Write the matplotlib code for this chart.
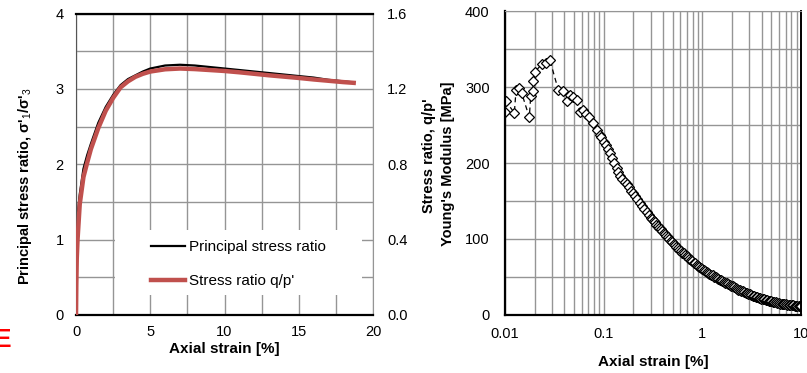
import matplotlib
matplotlib.use("Agg")
from matplotlib import pyplot as plt
from matplotlib.patches import Rectangle
from matplotlib.ticker import MultipleLocator, LogLocator, NullFormatter, FixedLocator

plt.rcParams['font.family'] = ['Liberation Sans', 'DejaVu Sans']
plt.rcParams['mathtext.fontset'] = 'custom'
plt.rcParams['mathtext.rm'] = 'Liberation Sans'
plt.rcParams['mathtext.it'] = 'Liberation Sans'
plt.rcParams['font.size'] = 10.5

# left chart: principal stress ratio vs axial strain
strain_r = [0, 0.05, 0.1, 0.25, 0.5, 0.75, 1.0, 1.5, 2.0, 2.5, 3.0, 3.5, 4.0, 4.5,
            5.0, 6.0, 7.0, 8.0, 9.0, 10, 11, 12, 13, 14, 15, 16, 17, 18, 18.5]
ratio_r = [1.0, 1.15, 1.3, 1.6, 1.94, 2.12, 2.27, 2.55, 2.76, 2.92, 3.05, 3.13, 3.18, 3.23,
           3.27, 3.31, 3.32, 3.31, 3.29, 3.27, 3.25, 3.23, 3.21, 3.19, 3.17, 3.15, 3.12, 3.10, 3.09]

# stress ratio q/p' (right axis)
strain_q = [0, 0.02, 0.05, 0.1, 0.25, 0.5, 0.75, 1.0, 1.5, 2.0, 2.5, 3.0, 3.5, 4.0, 4.5,
            5.0, 6.0, 7.0, 8.0, 9.0, 10, 11, 12, 13, 14, 15, 16, 17, 18, 18.7]
qp = [0, 0.16, 0.30, 0.396, 0.588, 0.732, 0.808, 0.88, 0.992, 1.084, 1.152, 1.208, 1.24, 1.264,
      1.28, 1.292, 1.304, 1.308, 1.305, 1.30, 1.295, 1.288, 1.28, 1.272, 1.265, 1.258, 1.25,
      1.243, 1.236, 1.232]

# right chart: Young's modulus vs axial strain
strain_e = [0.0100, 0.01023, 0.01243, 0.01293, 0.01396, 0.01476, 0.01763, 0.0182, 0.01907, 0.01936,
            0.02014, 0.02355, 0.026, 0.02858, 0.03468, 0.03844, 0.04217, 0.0456, 0.04921, 0.05329,
            0.05754, 0.0622, 0.0662, 0.0716, 0.0774, 0.0849, 0.0918, 0.095,
            0.100, 0.105, 0.110, 0.116, 0.122, 0.128, 0.135, 0.141, 0.148, 0.155, 0.163, 0.171,
            0.180, 0.190, 0.200, 0.210, 0.220, 0.232, 0.245, 0.258, 0.272, 0.287,
            0.300, 0.310, 0.320, 0.331, 0.342, 0.354, 0.366, 0.378, 0.391, 0.404, 0.418, 0.432,
            0.447, 0.462, 0.478, 0.494, 0.511, 0.528, 0.546, 0.565, 0.584, 0.604, 0.625, 0.646,
            0.668, 0.691, 0.714, 0.739, 0.764, 0.790, 0.817, 0.845, 0.874, 0.904, 0.935, 0.967,
            1.00, 1.03, 1.07, 1.11, 1.14, 1.18, 1.22, 1.27, 1.31, 1.36, 1.40, 1.45, 1.50, 1.55,
            1.60, 1.66, 1.71, 1.77, 1.83, 1.90, 1.96, 2.03, 2.10, 2.17, 2.24, 2.32, 2.40, 2.48,
            2.57, 2.65, 2.74, 2.84, 2.93, 3.03, 3.14, 3.24, 3.36, 3.47, 3.59, 3.71, 3.84, 3.97,
            4.10, 4.24, 4.39, 4.54, 4.69, 4.85, 5.02, 5.19, 5.37, 5.55, 5.74, 5.94, 6.14, 6.35,
            6.57, 6.79, 7.02, 7.26, 7.51, 7.77, 8.03, 8.31, 8.59, 8.88, 9.19, 9.50, 9.83, 10.0]
modulus = [267.5, 281, 266, 296, 299, 292, 260, 288, 295, 308,
           320, 330, 332, 335, 296, 295, 281, 289.5, 287, 283,
           267.5, 270, 264.5, 260, 253, 243, 237, 234,
           228, 224, 219, 213, 206, 200, 193, 188, 183, 179, 175, 172,
           168, 163, 160, 156, 152, 148, 144, 140, 136, 132,
           128, 126, 124, 122, 119, 117, 115, 113, 111, 108, 106, 104,
           102, 100, 98, 96, 94, 92, 90, 88, 86, 84, 82, 81,
           79, 77, 76, 74, 72, 71, 69, 68, 66, 65, 63, 62,
           60, 59, 58, 56, 55, 54, 53, 52, 50.5, 49.5, 48.5, 47.5, 46.5, 45.5,
           44.5, 43.5, 42.5, 41.5, 40.5, 39.5, 38.5, 37.5, 36.5, 35.5, 34.5, 33.5, 33, 32,
           31, 30, 29.5, 28.5, 28, 27, 26.5, 25.5, 25, 24, 23.5, 23, 22, 21.5,
           21, 20.5, 20, 19.5, 19, 18.5, 18, 17.5, 17, 16.5, 16, 15.5, 15, 15,
           14.5, 14, 14, 13.5, 13, 13, 12.5, 12.5, 12, 12, 12, 11.5, 11.5, 12]

grid_col = '#959595'

fig = plt.figure(figsize=(8.07, 3.73), dpi=100)

# ---------------- left chart ----------------
ax1 = fig.add_axes([0.0942, 0.1555, 0.368, 0.8083])
ax1.plot(strain_r, ratio_r, color='black', lw=1.6, label='Principal stress ratio')
ax1.set_xlim(0, 20)
ax1.set_ylim(0, 4)
ax1.xaxis.set_major_locator(MultipleLocator(5))
ax1.xaxis.set_minor_locator(MultipleLocator(2.5))
ax1.yaxis.set_major_locator(MultipleLocator(1))
ax1.yaxis.set_minor_locator(MultipleLocator(0.5))
ax1.grid(True, which='both', color=grid_col, lw=1.0)
ax1.set_axisbelow(True)
ax1.tick_params(which='both', length=0)
ax1.tick_params(axis='y', pad=9)
ax1.tick_params(axis='x', pad=7)
ax1.spines['top'].set_linewidth(1.6)
ax1.spines['bottom'].set_linewidth(1.6)
ax1.spines['left'].set_color('#555555')
ax1.spines['right'].set_color(grid_col)
ax1.set_xlabel('Axial strain [%]', fontweight='bold', fontsize=11)
ax1.xaxis.set_label_coords(0.5, -0.09)
ax1.set_ylabel("Principal stress ratio, σ'$_1$/σ'$_3$", fontweight='bold')
ax1.yaxis.set_label_coords(-0.141, 0.428)

# white legend area hiding the grid
ax1.add_patch(Rectangle((0.131, 0.066), 0.832, 0.216, transform=ax1.transAxes,
                        facecolor='white', edgecolor='none', zorder=1))

ax2 = ax1.twinx()
ax2.plot(strain_q, qp, color='#C0504D', lw=3.2, label="Stress ratio q/p'")
ax2.set_ylim(0, 1.6)
ax2.yaxis.set_major_locator(MultipleLocator(0.4))
ax2.yaxis.set_major_formatter(matplotlib.ticker.FormatStrFormatter('%.1f'))
ax2.tick_params(length=0, pad=10)
for s in ax2.spines.values():
    s.set_visible(False)
ax2.set_ylabel("Stress ratio, q/p'", fontweight='bold')
ax2.yaxis.set_label_coords(1.165, 0.53)

h1, l1 = ax1.get_legend_handles_labels()
h2, l2 = ax2.get_legend_handles_labels()
leg = ax2.legend(h1 + h2, l1 + l2, loc='upper left', bbox_to_anchor=(0.2525, 0.2488),
                 frameon=False, handlelength=2.2, handletextpad=0.26, labelspacing=1.31,
                 borderpad=0, borderaxespad=0, fontsize=11)

# ---------------- right chart ----------------
ax3 = fig.add_axes([0.6258, 0.1555, 0.3668, 0.815])
ax3.plot(strain_e, modulus, color='black', lw=0.9, ls=(0, (4, 3)),
         marker='D', ms=5.0, mfc='white', mec='black', mew=0.9)
ax3.set_xscale('log')
ax3.set_xlim(0.01, 10)
ax3.set_ylim(0, 400)
ax3.xaxis.set_major_locator(FixedLocator([0.01, 0.1, 1, 10]))
ax3.set_xticklabels(['0.01', '0.1', '1', '10'])
ax3.xaxis.set_minor_locator(LogLocator(base=10, subs=range(2, 10)))
ax3.xaxis.set_minor_formatter(NullFormatter())
ax3.yaxis.set_major_locator(MultipleLocator(100))
ax3.yaxis.set_minor_locator(MultipleLocator(50))
ax3.grid(True, which='both', color=grid_col, lw=1.0)
ax3.set_axisbelow(True)
ax3.tick_params(which='both', length=0)
ax3.tick_params(axis='y', pad=11)
ax3.tick_params(axis='x', pad=9)
ax3.spines['left'].set_linewidth(1.6)
ax3.spines['bottom'].set_linewidth(1.6)
ax3.spines['right'].set_linewidth(1.4)
ax3.spines['top'].set_color(grid_col)
ax3.set_xlabel('Axial strain [%]', fontweight='bold', fontsize=11)
ax3.xaxis.set_label_coords(0.5, -0.132)
ax3.set_ylabel("Young's Modulus [MPa]", fontweight='bold')
ax3.yaxis.set_label_coords(-0.169, 0.497)

# red letter fragment at the left edge
fig.text(-0.008, 0.088, 'E', color='#FF0000', fontsize=19, fontweight='bold',
         ha='left', va='center')

fig.savefig('out.png', dpi=100)
